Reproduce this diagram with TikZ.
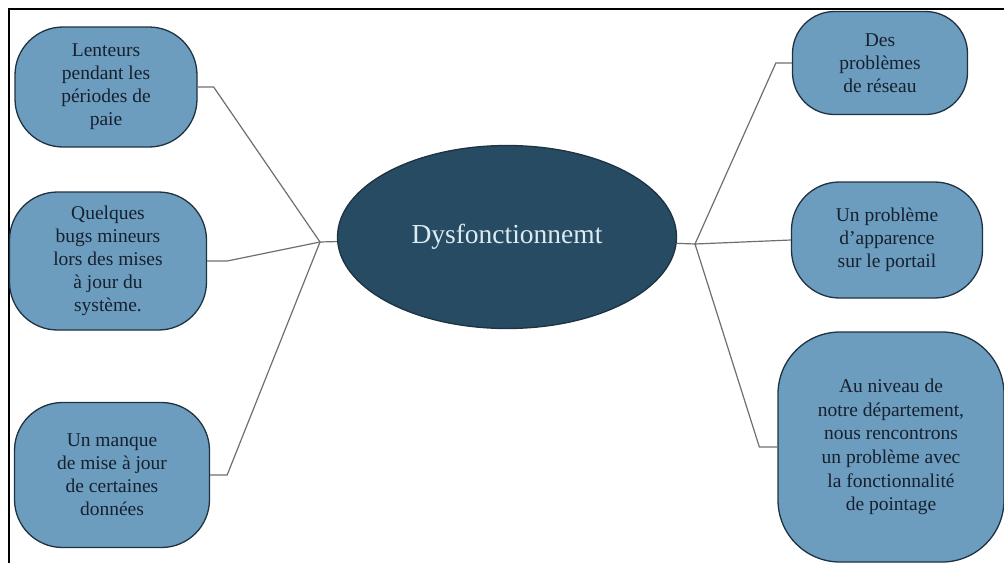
\documentclass[tikz,border=0pt]{standalone}
\usepackage{fontspec}
\setmainfont{Liberation Serif}
\usetikzlibrary{shapes}
\usepackage{xcolor}
\definecolor{boxblue}{RGB}{108,157,191}
\definecolor{boxline}{RGB}{30,50,66}
\definecolor{boxtext}{RGB}{22,32,46}
\definecolor{ellblue}{RGB}{39,75,99}
\definecolor{elltext}{RGB}{220,235,242}
\definecolor{linkgray}{RGB}{110,110,110}

\begin{document}
\begin{tikzpicture}[x=1pt,y=-1pt]
	\useasboundingbox (0,0) rectangle (1004,563);
	\draw[line width=2pt] (1004,9) -- (9,9) -- (9,563);
	\tikzstyle{every node}=[draw=boxline, line width=1.3pt, rounded corners=48pt, fill=boxblue, text=boxtext, align=center, inner sep=0pt, font=\fontsize{19.5}{23}\selectfont]
	\draw (106,87) node[minimum width=182pt, minimum height=120pt] (lent) {Lenteurs\\pendant les\\périodes de\\paie};
	\draw (108,261) node[minimum width=197pt, minimum height=138pt] (bugs) {Quelques\\bugs mineurs\\lors des mises\\à jour du\\système.};
	\draw (112,475) node[minimum width=195pt, minimum height=145pt] (manq) {Un manque\\de mise à jour\\de certaines\\données};
	\draw (880,63) node[minimum width=175pt, minimum height=103pt, rounded corners=42pt] (resx) {Des\\problèmes\\de réseau};
	\draw (887,240) node[minimum width=191pt, minimum height=116pt] (appa) {Un problème\\d'apparence\\sur le portail};
	\draw (891,447) node[minimum width=226pt, minimum height=230pt, rounded corners=62pt, font=\fontsize{19.5}{23.7}\selectfont] (poin) {Au niveau de\\notre département,\\nous rencontrons\\un problème avec\\la fonctionnalité\\de pointage};
	\draw (507,237) node[ellipse, sharp corners, fill=ellblue, text=elltext, minimum width=339pt, minimum height=183pt, font=\fontsize{27.5}{30}\selectfont] (dysf) {Dysfonctionnemt};
	\coordinate (hubL) at (320,242);
	\coordinate (hubR) at (695,244);
	\tikzstyle{every node}=[]
	\draw[linkgray, line width=1.2pt] (lent.east) -- ++(16,0) -- (hubL);
	\draw[linkgray, line width=1.2pt] (bugs.east) -- ++(20,0) -- (hubL);
	\draw[linkgray, line width=1.2pt] (manq.east) -- ++(17,0) -- (hubL);
	\draw[linkgray, line width=1.2pt] (hubL) -- (dysf);
	\draw[linkgray, line width=1.2pt] (resx.west) -- ++(-16,0) -- (hubR);
	\draw[linkgray, line width=1.2pt] (appa.west) -- (hubR);
	\draw[linkgray, line width=1.2pt] (poin.west) -- ++(-18,0) -- (hubR);
	\draw[linkgray, line width=1.2pt] (hubR) -- (dysf);
\end{tikzpicture}
\end{document}
